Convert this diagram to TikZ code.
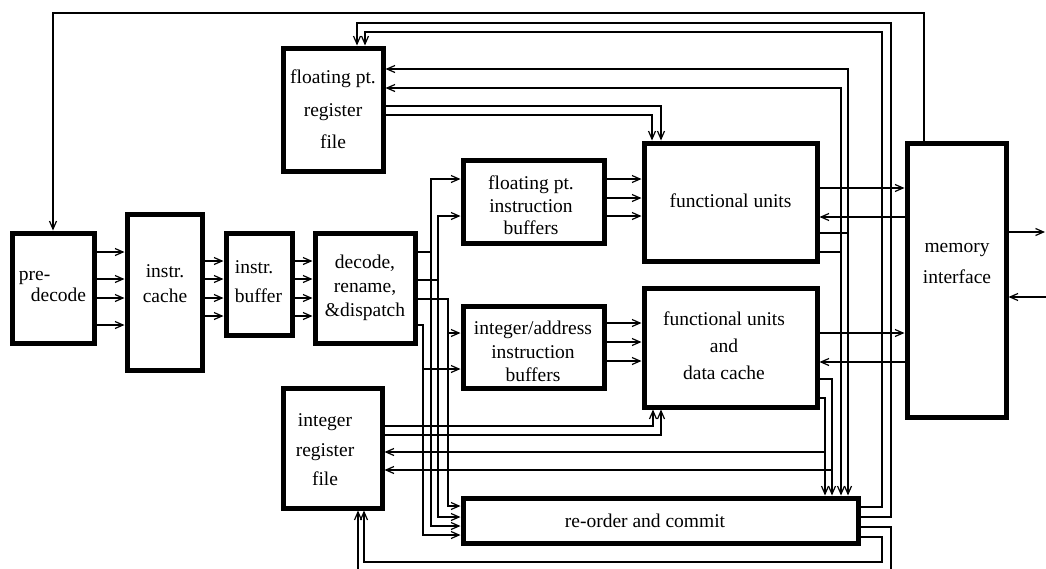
\documentclass[tikz,border=0pt]{standalone}
\usepackage{fontspec}
\setmainfont{Liberation Serif}
\usetikzlibrary{arrows.meta}
\begin{document}
\begin{tikzpicture}[x=1pt,y=-1pt,
  blk/.style={draw, line width=5pt, inner sep=0pt, fill=white},
  lbl/.style={inner sep=0pt, align=center, font=\fontsize{19.5pt}{#1}\selectfont},
  lbl/.default=24pt,
  wire/.style={line width=1.2pt},
  arr/.style={wire, -{Straight Barb[length=8pt,width=7pt]}},
]
\clip (0,0) rectangle (1046,568);

% ---------- blocks ----------
\node[blk, minimum width=82,  minimum height=110] (pre)  at (53,288)     {};
\node[blk, minimum width=75,  minimum height=156] (ic)   at (164.5,292)  {};
\node[blk, minimum width=66,  minimum height=102] (ib)   at (259,284)    {};
\node[blk, minimum width=100, minimum height=110] (dec)  at (365,288)    {};
\node[blk, minimum width=100, minimum height=123] (fpr)  at (333,109.5)  {};
\node[blk, minimum width=99,  minimum height=120] (irf)  at (332.5,448)  {};
\node[blk, minimum width=141, minimum height=83]  (fpb)  at (533.5,201.5){};
\node[blk, minimum width=141, minimum height=82]  (ipb)  at (533.5,347)  {};
\node[blk, minimum width=173, minimum height=118] (fu)   at (730.5,202)  {};
\node[blk, minimum width=173, minimum height=119] (fudc) at (730.5,347.5){};
\node[blk, minimum width=99,  minimum height=274] (mem)  at (956.5,280)  {};
\node[blk, minimum width=395, minimum height=45]  (rob)  at (660.5,520.5){};

% ---------- labels ----------
\node[lbl=21pt, align=left] (preT) at (52.5,286) {pre-\\\hspace*{12pt}decode};
\node[lbl=25pt] (icT)   at (165,284)   {instr.\\cache};
\node[lbl=29pt, align=left] (ibT) at (258.5,282) {instr.\\buffer};
\node[lbl=24pt] (decT)  at (365,288)   {decode,\\rename,\\\&dispatch};
\node[lbl=32.5pt] (fprT) at (333,109.5) {floating pt.\\register\\file};
\node[lbl=29.5pt] (irfT) at (325,450)  {integer\\register\\file};
\node[lbl=22.5pt] (fpbT) at (531,205.5) {floating pt.\\instruction\\buffers};
\node[lbl=23.5pt] (ipbT) at (533,351.5) {integer/address\\instruction\\buffers};
\node[lbl] (fuT)   at (730.5,201) {functional units};
\node[lbl=27pt] (fudcT) at (724,346) {functional units\\and\\data cache};
\node[lbl=31pt] (memT) at (957,263) {memory\\interface};
\node[lbl] (robT)  at (645,521) {re-order and commit};

% ---------- branch points ----------
\coordinate (fuA) at (848,233);
\coordinate (fuB) at (841,252);
\coordinate (dcA) at (832,379);
\coordinate (dcB) at (825,398);
\coordinate (dA)  at (431,252);
\coordinate (dB)  at (438,280);
\coordinate (dC)  at (448,333);
\coordinate (dD)  at (423,369);
\coordinate (mTop) at (924,13);
\coordinate (extO) at (1045,232);
\coordinate (extI) at (1046,297);

% ---------- fetch / decode path ----------
\foreach \y in {252,279,298,325}
  \draw[arr] (pre.east |- 0,\y) -- (ic.west |- 0,\y);
\foreach \y in {261,279,298,316} {
  \draw[arr] (ic.east |- 0,\y) -- (ib.west |- 0,\y);
  \draw[arr] (ib.east |- 0,\y) -- (dec.west |- 0,\y);
}

% memory interface feeds pre-decode
\draw[arr] (mem.north -| mTop) -- (mTop) -| (pre.north);

% ---------- dispatch ----------
\draw[arr] (dec.east |- dA) -- (dA) |- (fpb.west |- 0,179);
\draw[arr] (dA) |- (rob.west |- 0,526);
\draw[arr] (dec.east |- dB) -- (dB) |- (fpb.west |- 0,216);
\draw[arr] (dB) |- (rob.west |- 0,517);
\draw[arr] (dec.east |- 0,299) -| (dC) -- (ipb.west |- dC);
\draw[arr] (dC) |- (rob.west |- 0,506);
\draw[arr] (dec.east |- 0,325) -| (dD) -- (ipb.west |- dD);
\draw[arr] (dD) |- (rob.west |- 0,535);

% instruction buffers to functional units
\foreach \y in {179,198,216}
  \draw[arr] (fpb.east |- 0,\y) -- (fu.west |- 0,\y);
\foreach \y in {323,342,361}
  \draw[arr] (ipb.east |- 0,\y) -- (fudc.west |- 0,\y);

% ---------- register file operands ----------
\draw[arr] (fpr.east |- 0,106) -| (fu.north -| 661,0);
\draw[arr] (fpr.east |- 0,115) -| (fu.north -| 652,0);
\draw[arr] (irf.east |- 0,426) -| (fudc.south -| 653,0);
\draw[arr] (irf.east |- 0,435) -| (fudc.south -| 661,0);

% ---------- results ----------
\draw[arr] (fu.east |- fuA) -- (fuA) |- (fpr.east |- 0,69);
\draw[arr] (fuA) -- (rob.north -| fuA);
\draw[arr] (fu.east |- fuB) -- (fuB) |- (fpr.east |- 0,88);
\draw[arr] (fuB) -- (rob.north -| fuB);
\draw[arr] (fudc.east |- dcA) -- (dcA) -- (rob.north -| dcA);
\draw[arr] (dcA |- 0,470) -- (irf.east |- 0,470);
\draw[arr] (fudc.east |- dcB) -- (dcB) -- (rob.north -| dcB);
\draw[arr] (dcB |- 0,452) -- (irf.east |- 0,452);

% ---------- memory traffic ----------
\draw[arr] (fu.east |- 0,188) -- (mem.west |- 0,188);
\draw[arr] (mem.west |- 0,217) -- (fu.east |- 0,217);
\draw[arr] (fudc.east |- 0,333) -- (mem.west |- 0,333);
\draw[arr] (mem.west |- 0,362) -- (fudc.east |- 0,362);
\draw[arr] (mem.east |- extO) -- (extO);
\draw[arr] (extI) -- (mem.east |- extI);

% ---------- commit write-back ----------
\draw[arr] (rob.east |- 0,517) -| (891,23) -| (fpr.north -| 357,0);
\draw[arr] (rob.east |- 0,507) -| (882,32) -| (fpr.north -| 365,0);
\draw[arr] (rob.east |- 0,537) -| (882,562) -| (irf.south -| 364,0);
\draw[arr] (rob.east |- 0,527) -| (891,574) -| (irf.south -| 358,0);
\end{tikzpicture}
\end{document}
